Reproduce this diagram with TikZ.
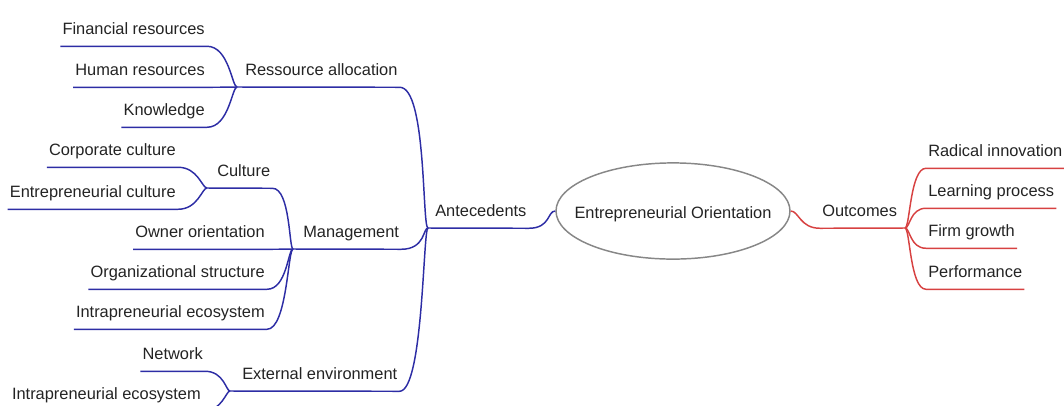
\documentclass[tikz,border=0pt]{standalone}
\usepackage{fontspec}
\setmainfont{Liberation Sans}
\usetikzlibrary{shapes.geometric}

\definecolor{mapblue}{RGB}{45,45,165}
\definecolor{mapred}{RGB}{215,65,65}
\definecolor{mapgray}{RGB}{135,135,135}
\definecolor{maptext}{RGB}{35,35,35}

\tikzset{
  topic/.style={font=\fontsize{12.3}{14}\selectfont, text=maptext, inner xsep=1.5pt, inner ysep=0pt, text depth=9pt},
  lefttopic/.style={topic, anchor=base east},
  righttopic/.style={topic, anchor=base west},
  blueline/.style={mapblue, line width=1.1pt},
  redline/.style={mapred, line width=1.1pt}
}

\begin{document}
\begin{tikzpicture}[x=0.75pt,y=-0.75pt]
\clip (0,0) rectangle (1064,405);

% junctions
\coordinate (jra) at (237,87);
\coordinate (jcu) at (207,188);
\coordinate (jmg) at (293,249);
\coordinate (jee) at (230,391);
\coordinate (jant) at (428,228);
\coordinate (joc) at (905,228);

\node[ellipse, draw=mapgray, line width=1.1pt, minimum width=175.5pt, minimum height=69pt,
      inner xsep=-12pt, inner ysep=18pt, text height=13pt, text depth=2pt,
      font=\fontsize{12.3}{14}\selectfont, text=maptext] (eo) at (673,211) {Entrepreneurial Orientation};

\node[righttopic] (ant) at (433,216) {Antecedents};
\node[righttopic] (out) at (820,216) {Outcomes};

\node[righttopic] (ra) at (243,75) {Ressource allocation};
\node[righttopic] (cul) at (215,176) {Culture};
\node[righttopic] (man) at (301,237) {Management};
\node[righttopic] (ext) at (240,379) {External environment};

\foreach \nm/\yb/\txt in {fin/34/Financial resources, hum/75/Human resources, kno/115/Knowledge}
  \node[lefttopic] (\nm) at (207,\yb) {\txt};
\foreach \nm/\yb/\txt in {cor/155/Corporate culture, ent/197/Entrepreneurial culture}
  \node[lefttopic] (\nm) at (178,\yb) {\txt};
\foreach \nm/\yb/\txt in {own/237/Owner orientation, org/277/Organizational structure, int/317/Intrapreneurial ecosystem}
  \node[lefttopic] (\nm) at (267,\yb) {\txt};
\node[lefttopic] (net) at (205,359) {Network};
\node[lefttopic] (inttwo) at (203,399) {Intrapreneurial ecosystem};

\foreach \nm/\yb/\txt in {rad/156/Radical innovation, lea/196/Learning process, fir/236/Firm growth, per/277/Performance}
  \node[righttopic] (\nm) at (926,\yb) {\txt};

% antecedents side
\foreach \nm in {fin,hum,kno}
  \draw[blueline] (\nm.south west) -- (\nm.south east) .. controls +(22,0) and +(-5,0) .. (jra);
\foreach \nm in {cor,ent}
  \draw[blueline] (\nm.south west) -- (\nm.south east) .. controls +(20,0) and +(-5,0) .. (jcu);
\foreach \nm in {own,org,int}
  \draw[blueline] (\nm.south west) -- (\nm.south east) .. controls +(20,0) and +(-5,0) .. (jmg);
\foreach \nm in {net,inttwo}
  \draw[blueline] (\nm.south west) -- (\nm.south east) .. controls +(19,0) and +(-4,0) .. (jee);
\draw[blueline] (jcu) -- (cul.south east) .. controls +(18,0) and +(-4,0) .. (jmg);
\draw[blueline] (jra) -- (ra.south east) .. controls +(27,0) and +(-6,0) .. (jant);
\draw[blueline] (jmg) -- (man.south east) .. controls +(24,0) and +(-5,0) .. (jant);
\draw[blueline] (jee) -- (ext.south east) .. controls +(24,0) and +(-5,0) .. (jant);
\draw[blueline] (jant) -- (ant.south east) .. controls +(22,0) and +(-8,0) .. (eo.west);

% outcomes side
\draw[redline] (eo.east) .. controls +(8,0) and +(-20,0) .. (out.south west) -- (joc);
\foreach \nm in {rad,lea,fir,per}
  \draw[redline] (joc) .. controls +(5,0) and +(-16,0) .. (\nm.south west) -- (\nm.south east);
\end{tikzpicture}
\end{document}
